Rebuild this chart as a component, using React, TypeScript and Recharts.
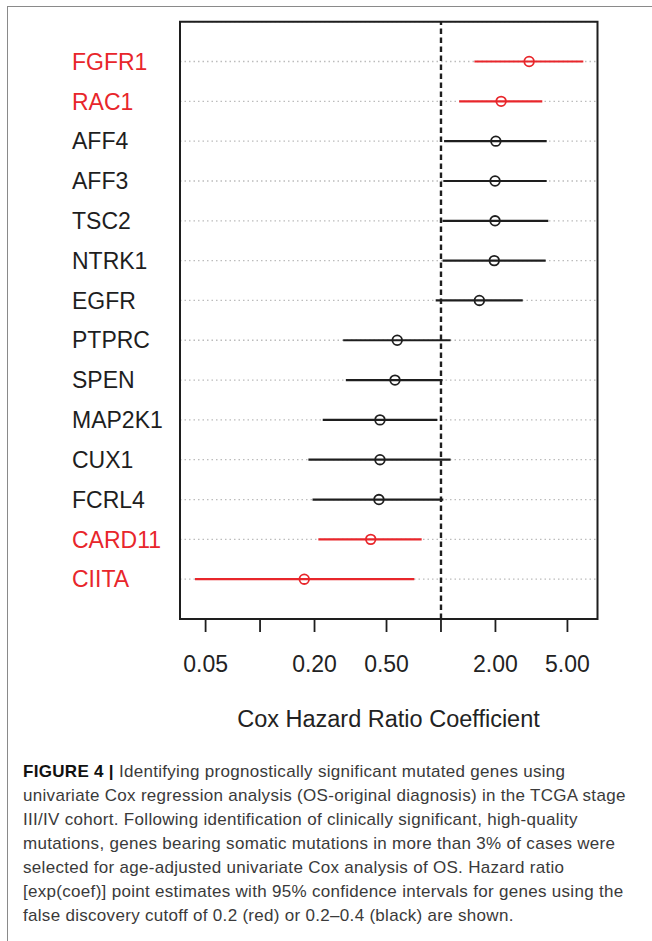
import {
  ScatterChart,
  Scatter,
  XAxis,
  YAxis,
  CartesianGrid,
  ReferenceLine,
  ReferenceArea,
  ErrorBar,
} from "recharts";

const genes = ["FGFR1", "RAC1", "AFF4", "AFF3", "TSC2", "NTRK1", "EGFR", "PTPRC", "SPEN", "MAP2K1", "CUX1", "FCRL4", "CARD11", "CIITA"];
const hazardRatio = [3.07, 2.15, 2.01, 1.99, 1.99, 1.97, 1.63, 0.573, 0.557, 0.46, 0.46, 0.454, 0.409, 0.1755];
const lowerCI = [1.53, 1.26, 1.04, 1.03, 1.02, 1.02, 0.935, 0.288, 0.298, 0.222, 0.185, 0.195, 0.21, 0.0437];
const upperCI = [6.12, 3.63, 3.84, 3.84, 3.92, 3.79, 2.83, 1.13, 1.02, 0.954, 1.13, 1.03, 0.782, 0.712];
// red = FDR < 0.2, black = 0.2-0.4
const isRed = [true, true, false, false, false, false, false, false, false, false, false, false, true, true];

const xTicks = [0.05, 0.1, 0.2, 0.5, 1, 2, 5];
const xTickLabels = ["0.05", "", "0.20", "0.50", "", "2.00", "5.00"];

const RED = "#e8262b";
const BLACK = "#1e1e1e";
const FONT = "'Liberation Sans', Arial, Helvetica, sans-serif";

const rows = genes.map((g, i) => ({
  gene: g,
  y: i + 1,
  x: hazardRatio[i],
  err: [hazardRatio[i] - lowerCI[i], upperCI[i] - hazardRatio[i]],
  red: isRed[i],
}));
const redRows = rows.filter((r) => r.red);
const blackRows = rows.filter((r) => !r.red);

const GeneTick = (props: any) => {
  const { y, payload } = props;
  const i = payload.value - 1;
  if (i < 0 || i >= genes.length) return null;
  return (
    <text x={72} y={y} dy="0.355em" fontSize={23} fontFamily={FONT} fill={isRed[i] ? RED : BLACK}>
      {genes[i]}
    </text>
  );
};

const Ring = (color: string) => (props: any) => (
  <circle cx={props.cx} cy={props.cy} r={4.8} fill="none" stroke={color} strokeWidth={1.8} />
);

const caption = [
  " Identifying prognostically significant mutated genes using",
  "univariate Cox regression analysis (OS-original diagnosis) in the TCGA stage",
  "III/IV cohort. Following identification of clinically significant, high-quality",
  "mutations, genes bearing somatic mutations in more than 3% of cases were",
  "selected for age-adjusted univariate Cox analysis of OS. Hazard ratio",
  "[exp(coef)] point estimates with 95% confidence intervals for genes using the",
  "false discovery cutoff of 0.2 (red) or 0.2–0.4 (black) are shown.",
];

export default function App() {
  return (
    <div style={{ position: "absolute", left: 0, top: 0, width: 652, height: 941, background: "#fff", overflow: "hidden", fontFamily: FONT }}>
      <div style={{ position: "absolute", left: 7, top: 6, width: 660, height: 960, borderLeft: "1px solid #8a8a8a", borderTop: "1px solid #8a8a8a" }} />
      <div style={{ position: "absolute", left: 0, top: 0 }}>
        <ScatterChart width={652} height={700} margin={{ top: 21.7, right: 54.5, left: 0, bottom: 21 }}>
          <CartesianGrid vertical={false} stroke="#bcbcbc" strokeDasharray="1.5 3" strokeWidth={1.3} />
          <XAxis
            type="number"
            dataKey="x"
            scale="log"
            domain={[0.0361, 7.33]}
            allowDataOverflow
            ticks={xTicks}
            interval={0}
            height={60}
            axisLine={false}
            tickSize={13}
            tickMargin={24}
            tickLine={{ stroke: BLACK, strokeWidth: 1.8 }}
            tick={{ fontSize: 23, fontFamily: FONT, fill: "#222" }}
            tickFormatter={(v: number) => xTickLabels[xTicks.indexOf(v)] ?? ""}
          />
          <YAxis
            type="number"
            dataKey="y"
            domain={[0, 15]}
            reversed
            ticks={rows.map((r) => r.y)}
            interval={0}
            width={180}
            axisLine={false}
            tickLine={false}
            tick={<GeneTick />}
          />
          <ReferenceLine x={1} stroke={BLACK} strokeWidth={2.4} strokeDasharray="5.5 3.5" />
          <ReferenceArea x1={0.0361} x2={7.33} y1={0} y2={15} fill="none" stroke={BLACK} strokeWidth={2} />
          <Scatter data={blackRows} shape={Ring(BLACK)} isAnimationActive={false}>
            <ErrorBar dataKey="err" direction="x" width={0} stroke={BLACK} strokeWidth={2.2} />
          </Scatter>
          <Scatter data={redRows} shape={Ring(RED)} isAnimationActive={false}>
            <ErrorBar dataKey="err" direction="x" width={0} stroke={RED} strokeWidth={2.2} />
          </Scatter>
        </ScatterChart>
      </div>
      <div style={{ position: "absolute", left: 0, width: 777, top: 707.5, textAlign: "center", fontSize: 23.5, lineHeight: "23px", color: "#222", whiteSpace: "nowrap" }}>
        Cox Hazard Ratio Coefficient
      </div>
      <div style={{ position: "absolute", left: 23, top: 759.5, fontSize: 17, lineHeight: "24px", letterSpacing: 0.3, color: "#3a3a3a", whiteSpace: "nowrap" }}>
        {caption.map((line, i) => (
          <div key={i}>
            {i === 0 && <b style={{ color: "#111" }}>FIGURE 4 |</b>}
            {line}
          </div>
        ))}
      </div>
    </div>
  );
}
